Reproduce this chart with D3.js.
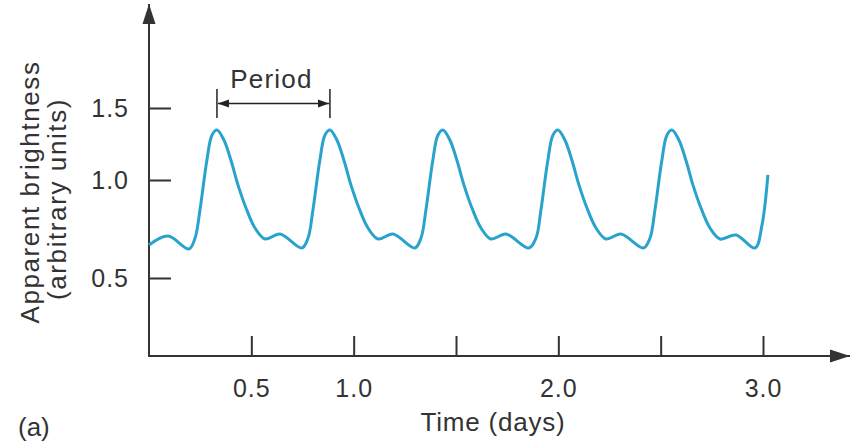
<!DOCTYPE html>
<html>
<head>
<meta charset="utf-8">
<script src="https://cdn.jsdelivr.net/npm/d3@7"></script>
<style>
	body { margin: 0; background: #fff; }
	svg { display: block; font-family: 'Liberation Sans', Arial, sans-serif; }
	.tick text { fill: #333; }
</style>
</head>
<body>
<svg></svg>
<script>
// light curve (time in days, brightness in arbitrary units)
var time = [
	0.000, 0.093, 0.195,
	0.225, 0.249, 0.283, 0.308, 0.332, 0.366, 0.400, 0.435, 0.474, 0.518, 0.567, 0.640, 0.747,
	0.777, 0.801, 0.835, 0.860, 0.884, 0.918, 0.952, 0.987, 1.026, 1.070, 1.119, 1.192, 1.299,
	1.329, 1.353, 1.387, 1.412, 1.436, 1.470, 1.504, 1.539, 1.578, 1.622, 1.671, 1.744, 1.856,
	1.891, 1.915, 1.949, 1.974, 1.998, 2.032, 2.066, 2.101, 2.140, 2.184, 2.233, 2.306, 2.416,
	2.448, 2.472, 2.506, 2.531, 2.555, 2.589, 2.623, 2.658, 2.697, 2.741, 2.790, 2.868, 2.961,
	2.995, 3.024
];
var brightness = [
	0.668, 0.714, 0.648,
	0.704, 0.847, 1.139, 1.313, 1.347, 1.278, 1.139, 0.974, 0.857, 0.755, 0.699, 0.724, 0.653,
	0.704, 0.847, 1.139, 1.313, 1.347, 1.278, 1.139, 0.974, 0.857, 0.755, 0.699, 0.724, 0.653,
	0.704, 0.847, 1.139, 1.313, 1.347, 1.278, 1.139, 0.974, 0.857, 0.755, 0.699, 0.724, 0.653,
	0.704, 0.847, 1.139, 1.313, 1.347, 1.278, 1.139, 0.974, 0.857, 0.755, 0.699, 0.724, 0.653,
	0.704, 0.847, 1.139, 1.313, 1.347, 1.278, 1.139, 0.974, 0.857, 0.755, 0.699, 0.719, 0.653,
	0.770, 1.035
];

var xTicks = [0.5, 1.0, 1.5, 2.0, 2.5, 3.0];
var xTickLabels = ['0.5', '1.0', '', '2.0', '', '3.0'];
var yTicks = [0.5, 1.0, 1.5];
var yTickLabels = ['0.5', '1.0', '1.5'];

// the period bracket goes from one peak to the next
var periodStart = 0.332;
var periodEnd = 0.884;

var ink = '#333';

let svg = d3.select('svg').attr('width', 854).attr('height', 446);

let x = d3.scaleLinear().domain([0, 3]).range([149, 763]);
// the printed y axis is not evenly spaced, so use a piecewise scale
let y = d3.scaleLinear().domain([0.5, 1.0, 1.5]).range([278, 180, 108]);

let x0 = 149, y0 = 356;

// arrow heads
let defs = svg.append('defs');
defs.append('marker')
	.attr('id', 'axisHead')
	.attr('orient', 'auto')
	.attr('markerUnits', 'userSpaceOnUse')
	.attr('markerWidth', 22)
	.attr('markerHeight', 14)
	.attr('refX', 20)
	.attr('refY', 7)
	.append('path')
	.attr('d', 'M0,0.5 L20,7 L0,13.5 Z')
	.attr('fill', ink);
defs.append('marker')
	.attr('id', 'periodHead')
	.attr('orient', 'auto-start-reverse')
	.attr('markerUnits', 'userSpaceOnUse')
	.attr('markerWidth', 12)
	.attr('markerHeight', 10)
	.attr('refX', 11)
	.attr('refY', 5)
	.append('path')
	.attr('d', 'M0,1 L11,5 L0,9 Z')
	.attr('fill', '#222');

// axes:

svg.append('g')
	.attr('transform', 'translate(0,' + y0 + ')')
	.call(d3.axisBottom(x)
		.tickValues(xTicks)
		.tickSizeInner(-20)
		.tickSizeOuter(0)
		.tickPadding(23)
		.tickFormat((d, i) => xTickLabels[i]))
	.call((g) => g.select('.domain').remove())
	.call((g) => g.selectAll('.tick line').attr('stroke', ink).attr('stroke-width', 2))
	.call((g) => g.selectAll('.tick text')
		.style('font-size', '25px')
		.style('letter-spacing', '1px'));

svg.append('g')
	.attr('transform', 'translate(' + x0 + ',0)')
	.call(d3.axisLeft(y)
		.tickValues(yTicks)
		.tickSizeInner(-22)
		.tickSizeOuter(0)
		.tickPadding(20)
		.tickFormat((d, i) => yTickLabels[i]))
	.call((g) => g.select('.domain').remove())
	.call((g) => g.selectAll('.tick line').attr('stroke', ink).attr('stroke-width', 2))
	.call((g) => g.selectAll('.tick text')
		.style('font-size', '25px')
		.style('letter-spacing', '1px'));

svg.append('line')
	.attr('x1', x0).attr('y1', y0)
	.attr('x2', 850).attr('y2', y0)
	.attr('stroke', ink)
	.attr('stroke-width', 2)
	.attr('marker-end', 'url(#axisHead)');

svg.append('line')
	.attr('x1', x0).attr('y1', y0 + 1)
	.attr('x2', x0).attr('y2', 4)
	.attr('stroke', ink)
	.attr('stroke-width', 2)
	.attr('marker-end', 'url(#axisHead)');

// light curve:

let points = time.map((t, i) => [t, brightness[i]]);
let lineFunction = d3.line().x((d) => x(d[0])).y((d) => y(d[1])).curve(d3.curveCatmullRom.alpha(0.5));

svg.append('path')
	.datum(points)
	.attr('d', lineFunction)
	.attr('fill', 'none')
	.attr('stroke', '#29a3cc')
	.attr('stroke-width', 3)
	.attr('stroke-linejoin', 'round');

// period bracket:

let ps = x(periodStart), pe = x(periodEnd);
[ps, pe].forEach((px) =>
	svg.append('line')
		.attr('x1', px).attr('y1', 89)
		.attr('x2', px).attr('y2', 118)
		.attr('stroke', '#222')
		.attr('stroke-width', 1.5)
);
svg.append('line')
	.attr('x1', ps + 1).attr('y1', 103.5)
	.attr('x2', pe - 1).attr('y2', 103.5)
	.attr('stroke', '#222')
	.attr('stroke-width', 1.5)
	.attr('marker-start', 'url(#periodHead)')
	.attr('marker-end', 'url(#periodHead)');
svg.append('text')
	.attr('x', (ps + pe) / 2 - 2)
	.attr('y', 88)
	.attr('text-anchor', 'middle')
	.style('font-size', '26px')
	.style('letter-spacing', '1.2px')
	.attr('fill', ink)
	.text('Period');

// titles:

svg.append('text')
	.attr('x', 493)
	.attr('y', 431)
	.attr('text-anchor', 'middle')
	.style('font-size', '26px')
	.style('letter-spacing', '0.8px')
	.attr('fill', ink)
	.text('Time (days)');

svg.append('text')
	.attr('x', 18)
	.attr('y', 436)
	.style('font-size', '26px')
	.attr('fill', ink)
	.text('(a)');

svg.append('text')
	.attr('transform', 'translate(39,192) rotate(-90)')
	.attr('text-anchor', 'middle')
	.style('font-size', '26px')
	.style('letter-spacing', '1.6px')
	.attr('fill', ink)
	.text('Apparent brightness');

svg.append('text')
	.attr('transform', 'translate(66,199) rotate(-90)')
	.attr('text-anchor', 'middle')
	.style('font-size', '26px')
	.style('letter-spacing', '1.6px')
	.attr('fill', ink)
	.text('(arbitrary units)');
</script>
</body>
</html>
